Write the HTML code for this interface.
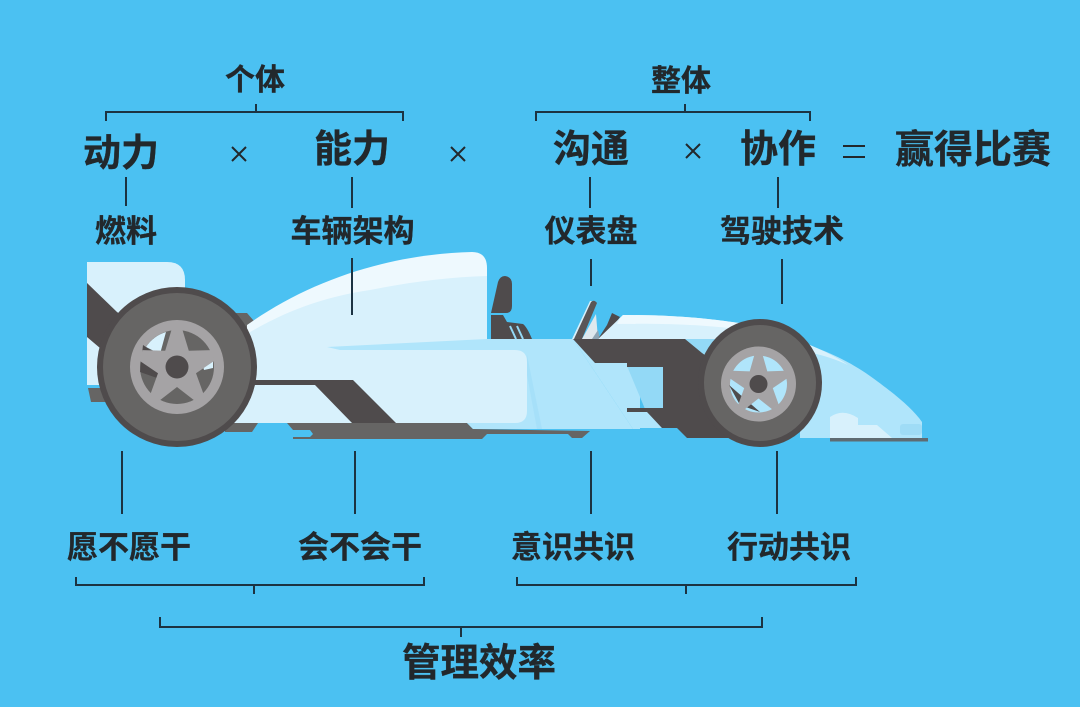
<!DOCTYPE html>
<html><head><meta charset="utf-8"><style>
html,body{margin:0;padding:0;background:#4bc1f2}
svg{display:block}
text{font-family:"Liberation Sans","Noto Sans CJK SC",sans-serif;font-weight:700;fill:#22282c;text-anchor:middle;stroke:#22282c;stroke-width:.3}
.l{stroke:#1c3342;stroke-width:2;fill:none}
</style></head><body>
<svg width="1080" height="707" viewBox="0 0 1080 707" xmlns="http://www.w3.org/2000/svg">
<rect width="1080" height="707" fill="#4bc1f2"/>
<!-- rear wing -->
<path d="M87 262H167Q185 262 185 280V330H120L87 283Z" fill="#d8f1fc"/>
<path d="M87 335L125 360V385H87V380Z" fill="#d8f1fc"/>
<path d="M87 283L117 312L135 325L120 365L87 337Z" fill="#4f4b4c"/>
<path d="M88 388H110V402H91Z" fill="#666564"/>
<path d="M232 313H247L254 321L245 335Z" fill="#666564"/>
<!-- floor -->
<path d="M225 423H258L252 432H225Z" fill="#666564"/>
<path d="M287 423H467L473 429L590 431L582 438H572L568 434H487L482 439H293V437H310L313 434L310 430H293Z" fill="#666564"/>
<!-- engine cover -->
<path d="M247 325C310 280 390 254 472 252Q487 252 487 268V345H247Z" fill="#eef9fe"/>
<path d="M247 334C290 308 330 296 370 290C410 282 450 277 487 276V350H247Z" fill="#d8f1fc"/>
<!-- main body -->
<path d="M327 347L487 339H573L633 429H473L467 423H340Z" fill="#b0e5fb"/>
<path d="M573 339H640V429H633Z" fill="#b0e5fb"/>
<path d="M250 348L327 347L340 350H515Q527 350 527 362V411Q527 423 515 423H233V380H250Z" fill="#d8f1fc"/>
<path d="M527 355L542 429H537L527 375Z" fill="#a6e0f9"/>
<!-- dark stripe on side -->
<path d="M250 380H353L396 423H352L315 385H250Z" fill="#4f4b4c"/>
<!-- seat -->
<path d="M491 313L498 282Q500 276 505 276Q512 277 512 284V306Q512 313 506 313Z" fill="#4f4b4c"/>
<path d="M491 315H503L507 322L523 324Q527 327 532 339H491Z" fill="#4f4b4c"/>
<path d="M510 326L516 339M517 326L523 339" stroke="#93d9f6" stroke-width="2"/>
<!-- windscreen -->
<path d="M572 339L590 301L592 301L575 339Z" fill="#d8f1fc"/>
<path d="M574 339L591 302Q594 299 597 303L582 339Z" fill="#5a5657"/>
<path d="M582 339L596 314L598 339Z" fill="#dfe9ee"/>
<path d="M592 339L598 330L600 339Z" fill="#8fa6b5"/>
<path d="M598 339L607 325L612 313L620 317L604 339Z" fill="#4f4b4c"/>
<!-- nose top -->
<path d="M598 339L623 315C665 315 700 317 745 324L790 345L700 352V339Z" fill="#d8f1fc"/>
<path d="M620 318L623 315C665 315 700 317 745 324V330C710 325 665 323 617 324Z" fill="#eef9fe"/>
<path d="M685 339H715V365H700Z" fill="#93d9f6"/>
<!-- nose front -->
<path d="M800 342C830 352 850 362 870 376C895 394 912 408 922 422V438H800Z" fill="#b0e5fb"/>
<path d="M805 343C820 349 835 356 848 365C835 359 825 356 812 353Z" fill="#d8f1fc"/>
<path d="M830 438V417Q843 408 858 418V425H877L892 438Z" fill="#d8f1fc"/>
<rect x="900" y="424" width="22" height="11" rx="3" fill="#9fdcf6"/>
<rect x="830" y="438" width="98" height="3.500" fill="#5f6b72"/>
<!-- front dark mount and underside -->
<path d="M627 366H663V409H645Z" fill="#93d9f6"/>
<path d="M627 412H648L662 428H633Z" fill="#b0e5fb"/>
<path d="M573 339H685L702 353L740 380V438H687L677 428H662L647 412H627V408H663V367H627V363H595Z" fill="#4f4b4c"/>
<!-- rear wheel -->
<circle cx="177" cy="367" r="80" fill="#4f4b4c"/>
<circle cx="177" cy="367" r="74" fill="#666564"/>
<circle cx="177" cy="367" r="47" fill="#a5a3a5"/>
<circle cx="177" cy="367" r="37" fill="#666564"/>
<path d="M146 347A37 37 0 0 1 166 332L160 354Z" fill="#d8f1fc"/>
<path d="M143 345L158 355L165 367L157 378L140 372Z" fill="#4f4b4c"/>
<path d="M203 366L213 360L213 368L204 370Z" fill="#d8f1fc"/>
<path fill="#a5a3a5" d="M171.500 330H182.500L188.800 350.800L211.400 350.100L214.800 360.500L196 373.200L203.700 394.500L194.900 400.900L177 387L159.100 400.900L150.300 394.500L158 373.200L139.200 360.500L142.600 350.100L165.200 350.800Z"/>
<circle cx="177" cy="367" r="11.500" fill="#4f4b4c"/>
<!-- front wheel -->
<ellipse cx="760" cy="383" rx="62" ry="64" fill="#4f4b4c"/>
<ellipse cx="760" cy="383" rx="56" ry="58" fill="#666564"/>
<circle cx="758.500" cy="384" r="37.500" fill="#a5a3a5"/>
<circle cx="758.500" cy="384" r="28.500" fill="#b0e5fb"/>
<path d="M729 385L740 405L760 412Z" fill="#4f4b4c"/>
<path fill="#a5a3a5" d="M754.500 354.500H762.500L767.300 371.400L784.900 370.700L787.300 378.300L772.800 388.100L778.700 404.600L772.300 409.400L758.500 398.500L744.700 409.400L738.300 404.600L744.200 388.100L729.700 378.300L732.100 370.700L749.700 371.400Z"/>
<circle cx="758.500" cy="384" r="9" fill="#4f4b4c"/>
<!-- connectors -->
<g class="l">
<path d="M106 121V112H403V121M256 104V112"/>
<path d="M536 121V112H810V121M685 104V112"/>
<path d="M126 177V206M352 177V208M590 177V208M778 177V208"/>
<path d="M591 259V286M782 259V304M352 258V315"/>
<path d="M122 451V514M355 451V514M591 451V514M777 451V514"/>
<path d="M76 577V585H424V577M254 585V594"/>
<path d="M517 577V585H856V577M686 585V594"/>
<path d="M160 617V627H762V617M461 627V637"/>
</g>
<!-- operators -->
<g stroke="#22282c" stroke-width="2" fill="none">
<path d="M232 147L246 161M246 147L232 161M451 147L465 161M465 147L451 161M686 144L700 158M700 144L686 158"/>
<path d="M843 146H865M843 157H865"/>
</g>
<!-- text -->
<text x="255" y="90" font-size="30">个体</text>
<text x="681" y="91" font-size="30">整体</text>
<text x="121" y="166" font-size="38">动力</text>
<text x="352" y="162" font-size="38">能力</text>
<text x="591" y="162" font-size="38">沟通</text>
<text x="778" y="162" font-size="38">协作</text>
<text x="973" y="163" font-size="39">赢得比赛</text>
<text x="126" y="242" font-size="31">燃料</text>
<text x="352.500" y="242" font-size="31">车辆架构</text>
<text x="591" y="242" font-size="31">仪表盘</text>
<text x="782" y="242" font-size="31">驾驶技术</text>
<text x="129" y="558" font-size="31">愿不愿干</text>
<text x="360" y="558" font-size="31">会不会干</text>
<text x="573" y="558" font-size="31">意识共识</text>
<text x="789" y="558" font-size="31">行动共识</text>
<text x="479" y="676" font-size="38.500">管理效率</text>
</svg>
</body></html>
